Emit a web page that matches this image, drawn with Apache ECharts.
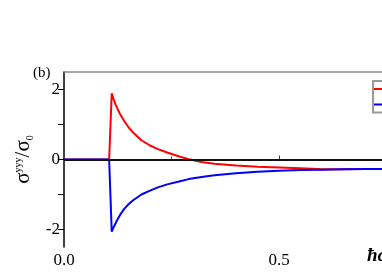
<!DOCTYPE html>
<html><head><meta charset="utf-8">
<script src="https://cdn.jsdelivr.net/npm/echarts@6/dist/echarts.min.js"></script>
<style>html,body{margin:0;padding:0;background:#fff;overflow:hidden}#c{width:382px;height:273px}</style>
</head><body><div id="c"></div>
<script>
const xs    = [0, 0.105, 0.111, 0.116, 0.12, 0.125, 0.13, 0.14, 0.15, 0.16, 0.18, 0.2, 0.22, 0.24, 0.27, 0.29, 0.32, 0.35, 0.4, 0.45, 0.5, 0.55, 0.6, 0.65, 0.7, 0.75, 0.8];
const redY  = [0, 0, 1.89, 1.70, 1.57, 1.43, 1.31, 1.10, 0.92, 0.78, 0.55, 0.40, 0.29, 0.20, 0.08, 0.01, -0.07, -0.12, -0.17, -0.21, -0.23, -0.25, -0.28, -0.28, -0.27, -0.27, -0.27];
const blueY = [0, 0, -2.06, -1.92, -1.82, -1.70, -1.59, -1.41, -1.28, -1.17, -1.0, -0.89, -0.79, -0.71, -0.62, -0.56, -0.5, -0.45, -0.39, -0.35, -0.32, -0.30, -0.29, -0.28, -0.27, -0.27, -0.27];
const seriesNames = ['xxy', 'yyy'];
const yTickLabels = {'2': '2', '0': '0', '-2': '-2'};
const xAxisTitle = 'ħω';

const chart = echarts.init(document.getElementById('c'));
const serif = '"Liberation Serif","DejaVu Serif",serif';
chart.setOption({
  animation: false,
  grid: {left: 64, top: 72, bottom: 26, width: 645, outerBoundsMode: 'none', containLabel: false},
  legend: {
    left: 373, top: 81, orient: 'vertical',
    data: seriesNames.map(n => ({name: n, icon: 'rect'})),
    itemWidth: 20, itemHeight: 2, itemGap: 1.5,
    padding: [1, 2, 1, 1],
    borderColor: '#999', borderWidth: 2,
    textStyle: {fontFamily: serif, fontSize: 12, lineHeight: 14}
  },
  xAxis: [{
    type: 'value', min: 0, max: 1.5, interval: 0.5,
    axisLine: {lineStyle: {color: '#444', width: 1.5}},
    axisTick: {inside: true, length: 4, lineStyle: {color: '#444'}},
    minorTick: {show: true, splitNumber: 2, length: 3, lineStyle: {color: '#444'}},
    splitLine: {show: false},
    axisLabel: {formatter: v => v.toFixed(1), fontFamily: serif, fontSize: 17, color: '#000', margin: 5}
  }, {
    type: 'value', min: 0, max: 1.5, position: 'top',
    axisLine: {show: true, lineStyle: {color: '#888', width: 1.5}},
    axisTick: {show: false}, axisLabel: {show: false}, splitLine: {show: false}
  }],
  yAxis: {
    type: 'value', min: -2.5, max: 2.5, interval: 1,
    axisLine: {show: true, lineStyle: {color: '#000', width: 1.5}},
    axisTick: {show: true, length: 6, lineStyle: {color: '#000'}, customValues: [-2, -1, 0, 1, 2]},
    axisLabel: {customValues: [-2, 0, 2], formatter: v => yTickLabels[String(v)] || '', fontFamily: serif, fontSize: 17, color: '#000', margin: 4},
    splitLine: {show: false},
    name: '{s|σ}{sup|yyy}{s|/σ}{sub|0}', nameLocation: 'middle', nameGap: 24, nameRotate: 90,
    nameTextStyle: {
      fontFamily: serif, color: '#000',
      rich: {
        s: {fontFamily: serif, fontSize: 21, color: '#000'},
        sup: {fontFamily: serif, fontSize: 10, color: '#000', verticalAlign: 'bottom', padding: [0, 0, 12, 0]},
        sub: {fontFamily: serif, fontSize: 10, color: '#000', verticalAlign: 'top', padding: [12, 0, 0, 0]}
      }
    }
  },
  graphic: [
    {type: 'text', left: 33, top: 66, style: {text: '(b)', font: '15px ' + serif, fill: '#000'}},
    {type: 'text', left: 367, top: 247, style: {text: xAxisTitle, font: 'italic bold 19px ' + serif, fill: '#000'}}
  ],
  series: [{
    name: seriesNames[0], type: 'line', showSymbol: false, symbol: 'none',
    data: xs.map((x, i) => [x, redY[i]]),
    lineStyle: {color: '#ff0000', width: 2}, itemStyle: {color: '#ff0000'}, z: 2
  }, {
    name: seriesNames[1], type: 'line', showSymbol: false, symbol: 'none',
    data: xs.map((x, i) => [x, blueY[i]]),
    lineStyle: {color: '#0000ff', width: 2}, itemStyle: {color: '#0000ff'}, z: 3,
    markLine: {silent: true, symbol: 'none', label: {show: false},
      lineStyle: {color: '#111', width: 2, type: 'solid'}, data: [{yAxis: 0}]}
  }]
});
</script></body></html>
